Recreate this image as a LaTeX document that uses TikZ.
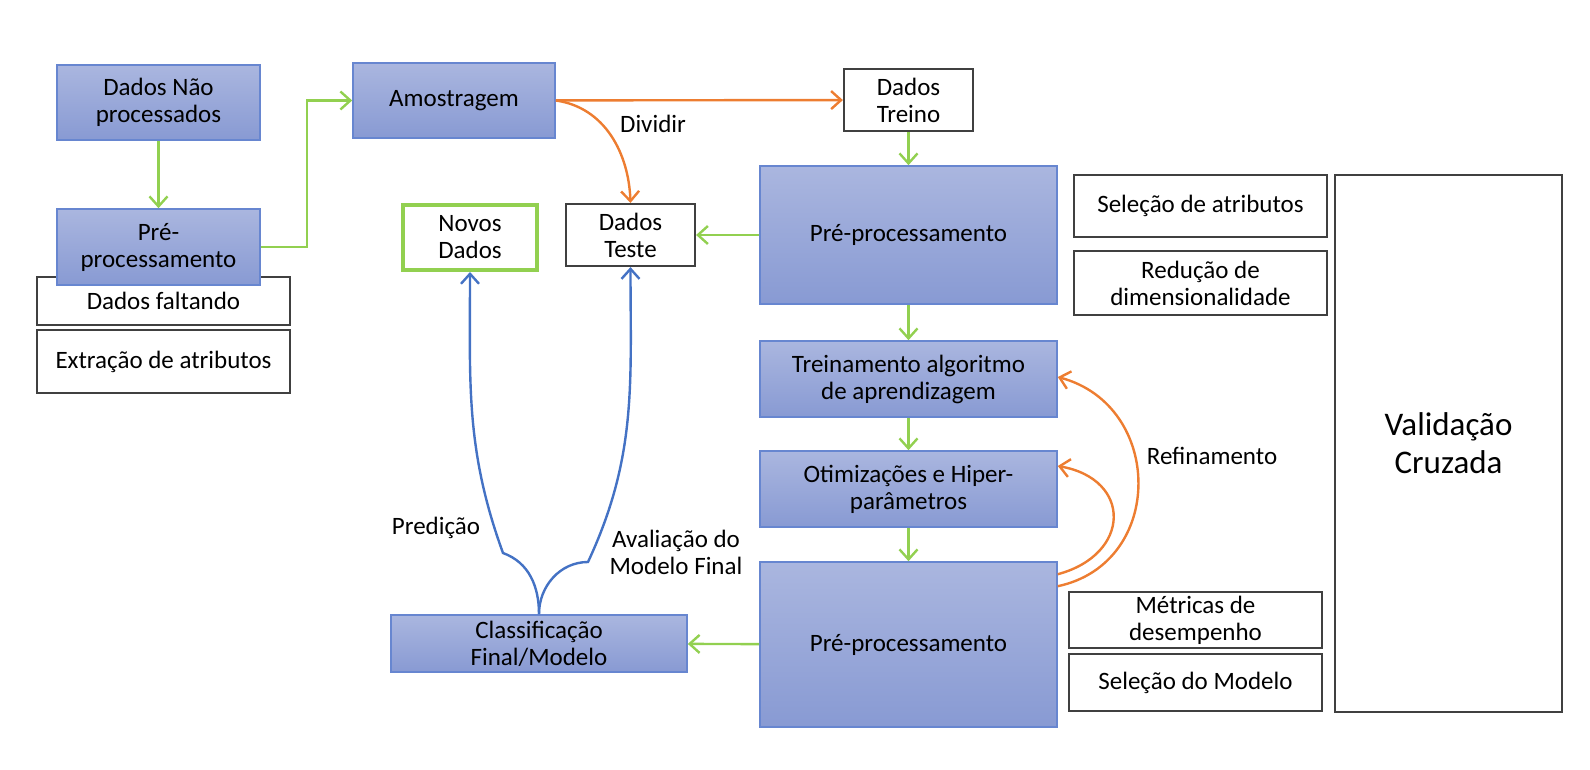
\documentclass[tikz,border=0pt]{standalone}
\usepackage{fontspec}
\setmainfont{Carlito}
\usepackage{tikz}
\usetikzlibrary{
	positioning,
	arrows.meta
}

\definecolor{boxtop}{RGB}{170,182,223}
\definecolor{boxbot}{RGB}{136,154,211}
\definecolor{boxline}{RGB}{103,134,208}
\definecolor{lgreen}{RGB}{146,208,80}
\definecolor{lorange}{RGB}{237,125,49}
\definecolor{lblue}{RGB}{68,114,196}
\definecolor{lblack}{RGB}{64,64,64}

\begin{document}
\begin{tikzpicture}[x=0.5pt,y=0.5pt,
	txt/.style={font=\fontsize{12.5}{13.5}\selectfont,align=center},
	proc/.style={txt,rectangle,inner sep=0pt,draw=boxline,line width=0.8pt,top color=boxtop,bottom color=boxbot},
	plain/.style={txt,rectangle,inner sep=0pt,draw=lblack,line width=1.1pt,fill=white},
	tip/.style={-{Straight Barb[length=5pt,width=9pt,line width=1.2pt]}},
	garrow/.style={tip,draw=lgreen,line width=1.2pt},
	oarrow/.style={tip,draw=lorange,line width=1.2pt},
	barrow/.style={tip,draw=lblue,line width=1.2pt}
]
	\useasboundingbox (0,0) rectangle (1590,-770);

	% left column
	\node[proc,minimum width=101.5pt,minimum height=37.5pt] (raw) at (158.5,-102.5) {Dados Não\\processados};
	\node[plain,minimum width=126.5pt,minimum height=24pt]  (miss) at (163.5,-301) {Dados faltando};
	\node[plain,minimum width=126.5pt,minimum height=31.5pt] (extr) at (163.5,-361.5) {Extração de atributos};
	\node[proc,minimum width=101.5pt,minimum height=38pt]   (pre1) at (158.5,-247) {Pré-\\processamento};

	% sampling and split
	\node[proc,minimum width=101pt,minimum height=37.5pt]   (amost) at (454,-100.5) {Amostragem};
	\node[plain,minimum width=64.5pt,minimum height=31pt]   (treino) at (908.5,-100) {Dados\\Treino};
	\node[plain,minimum width=64.5pt,minimum height=31pt]   (teste) at (630.5,-235) {Dados\\Teste};
	\node[plain,draw=lgreen,line width=2pt,minimum width=67pt,minimum height=32.5pt] (novos) at (470,-237.5) {Novos\\Dados};

	% middle column
	\node[proc,minimum width=148.5pt,minimum height=69pt]   (pre2) at (908.5,-235) {Pré-processamento};
	\node[proc,minimum width=148.5pt,minimum height=38pt]   (train) at (908.5,-379) {Treinamento algoritmo\\de aprendizagem};
	\node[proc,minimum width=148.5pt,minimum height=38pt]   (otim) at (908.5,-489) {Otimizações e Hiper-\\parâmetros};
	\node[proc,minimum width=148.5pt,minimum height=82.5pt] (pre3) at (908.5,-644.5) {Pré-processamento};
	\node[proc,minimum width=148pt,minimum height=28.5pt]   (classif) at (539,-643.5) {Classificação\\Final/Modelo};

	% right column
	\node[plain,minimum width=126.5pt,minimum height=31pt]   (selatr) at (1200.5,-206) {Seleção de atributos};
	\node[plain,minimum width=126.5pt,minimum height=32pt]   (reduc) at (1200.5,-283) {Redução de\\dimensionalidade};
	\node[plain,minimum width=126.5pt,minimum height=28pt]   (metr) at (1195.5,-620) {Métricas de\\desempenho};
	\node[plain,minimum width=126.5pt,minimum height=28.5pt] (selmod) at (1195.5,-682.5) {Seleção do Modelo};
	\node[plain,minimum width=113.5pt,minimum height=268.5pt,font=\fontsize{16.5}{19}\selectfont] (valid) at (1448.5,-443.5) {Validação\\Cruzada};

	% labels
	\node[txt] (ldiv) at (653,-124) {Dividir};
	\node[txt] (lref) at (1212,-456) {Refinamento};
	\node[txt] (lpred) at (436,-528) {Predição};
	\node[txt] (laval) at (676,-552) {Avaliação do\\Modelo Final};

	\coordinate (lk) at (503,-553);
	\coordinate (rk) at (588,-562);

	\path
		(raw)  edge[garrow] (pre1)
		(treino) edge[garrow] (pre2)
		(pre2) edge[garrow] (teste)
		(pre2) edge[garrow] (train)
		(train) edge[garrow] (otim)
		(otim) edge[garrow] (pre3)
		(pre3) edge[garrow] (classif)
		(amost) edge[oarrow] (treino)
	;
	\draw[garrow] (pre1.east) -- ++(46,0) |- (amost.west);
	\draw[oarrow] (amost.east) to[out=-8,in=92] (teste.north);
	\draw[oarrow] ([yshift=-6.5pt]pre3.north east) to[out=15,in=-10,looseness=1.8] ([yshift=11.5pt]otim.east);
	\draw[oarrow] ([yshift=-12.5pt]pre3.north east) to[out=12,in=-15,looseness=1.35] ([yshift=1pt]train.east);
	\draw[barrow] (classif.north) to[out=90,in=-20] (lk) to[out=110,in=-90] (novos.south);
	\draw[barrow] (classif.north) to[out=90,in=180] (rk) to[out=65,in=-90] (teste.south);
\end{tikzpicture}
\end{document}
